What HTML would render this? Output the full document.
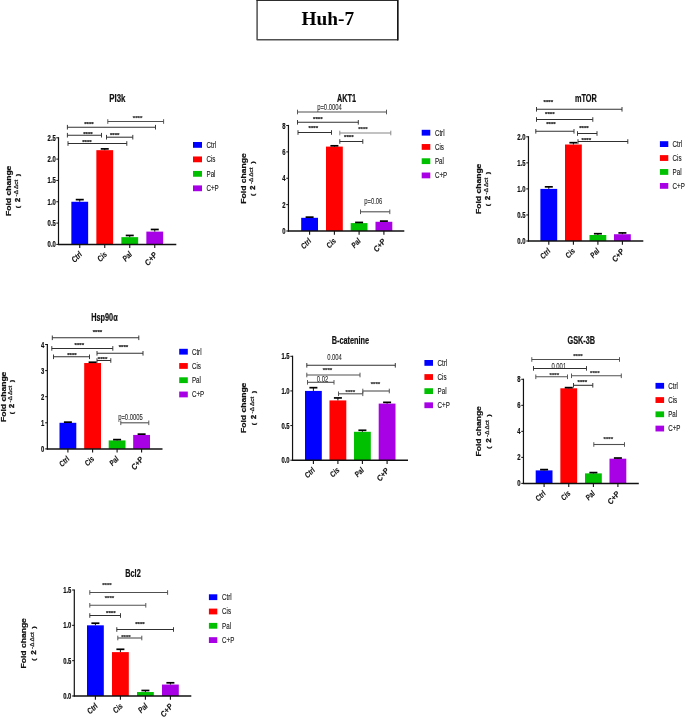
<!DOCTYPE html><html><head><meta charset="utf-8"><title>Huh-7</title>
<style>html,body{margin:0;padding:0;background:#fff;}body{width:685px;height:718px;overflow:hidden;font-family:"Liberation Sans",sans-serif;}body{position:relative;}svg{display:block;position:absolute;top:0;left:0;opacity:0.999;will-change:transform;}text{font-family:"Liberation Sans",sans-serif;}.ser{font-family:"Liberation Serif",serif;}</style></head><body>
<svg width="685" height="718" viewBox="0 0 685 718">
<rect x="0" y="0" width="685" height="718" fill="#fff"/>
<rect x="257.1" y="0" width="140.65" height="39.85" fill="#fff" stroke="#505050" stroke-width="1.5" stroke-linejoin="round"/>
<path d="M256.4 0.1 H397.75 V40.4" fill="none" stroke="#151515" stroke-width="1.4"/>
<text class="ser" x="327.8" y="25" font-size="19.3" font-weight="bold" text-anchor="middle" fill="#000">Huh-7</text>
<rect x="71.35" y="201.76" width="16.80" height="42.64" fill="#0000ff"/>
<line x1="79.75" y1="201.76" x2="79.75" y2="199.63" stroke="#111" stroke-width="1.0"/>
<line x1="75.75" y1="199.63" x2="83.75" y2="199.63" stroke="#000" stroke-width="1.7"/>
<line x1="79.75" y1="244.40" x2="79.75" y2="248.10" stroke="#111" stroke-width="1.1"/>
<text transform="translate(82.65,255.00) rotate(-45) scale(0.8,1)" font-size="8.2" text-anchor="end" font-weight="bold" font-style="italic" fill="#111" stroke="#111" stroke-width="0.1">Ctrl</text>
<rect x="96.35" y="150.17" width="16.80" height="94.23" fill="#ff0000"/>
<line x1="104.75" y1="150.17" x2="104.75" y2="148.89" stroke="#111" stroke-width="1.0"/>
<line x1="100.75" y1="148.89" x2="108.75" y2="148.89" stroke="#000" stroke-width="1.7"/>
<line x1="104.75" y1="244.40" x2="104.75" y2="248.10" stroke="#111" stroke-width="1.1"/>
<text transform="translate(107.65,255.00) rotate(-45) scale(0.8,1)" font-size="8.2" text-anchor="end" font-weight="bold" font-style="italic" fill="#111" stroke="#111" stroke-width="0.1">Cis</text>
<rect x="121.35" y="237.15" width="16.80" height="7.25" fill="#00c000"/>
<line x1="129.75" y1="237.15" x2="129.75" y2="235.45" stroke="#111" stroke-width="1.0"/>
<line x1="125.75" y1="235.45" x2="133.75" y2="235.45" stroke="#000" stroke-width="1.7"/>
<line x1="129.75" y1="244.40" x2="129.75" y2="248.10" stroke="#111" stroke-width="1.1"/>
<text transform="translate(132.65,255.00) rotate(-45) scale(0.8,1)" font-size="8.2" text-anchor="end" font-weight="bold" font-style="italic" fill="#111" stroke="#111" stroke-width="0.1">Pal</text>
<rect x="146.35" y="231.61" width="16.80" height="12.79" fill="#a800e6"/>
<line x1="154.75" y1="231.61" x2="154.75" y2="229.48" stroke="#111" stroke-width="1.0"/>
<line x1="150.75" y1="229.48" x2="158.75" y2="229.48" stroke="#000" stroke-width="1.7"/>
<line x1="154.75" y1="244.40" x2="154.75" y2="248.10" stroke="#111" stroke-width="1.1"/>
<text transform="translate(157.65,255.00) rotate(-50) scale(0.9,1)" font-size="8.2" text-anchor="end" font-weight="bold" font-style="italic" fill="#111" stroke="#111" stroke-width="0.1">C+P</text>
<line x1="58.50" y1="137.20" x2="58.50" y2="245.00" stroke="#111" stroke-width="1.2"/>
<line x1="57.90" y1="244.40" x2="176.30" y2="244.40" stroke="#111" stroke-width="1.55"/>
<line x1="56.30" y1="244.40" x2="58.50" y2="244.40" stroke="#111" stroke-width="1.0"/>
<text transform="translate(55.80,247.45) scale(0.7,1)" font-size="8.4" text-anchor="end" font-weight="bold" font-style="normal" fill="#111" stroke="#111" stroke-width="0.22">0.0</text>
<line x1="56.30" y1="223.08" x2="58.50" y2="223.08" stroke="#111" stroke-width="1.0"/>
<text transform="translate(55.80,226.13) scale(0.7,1)" font-size="8.4" text-anchor="end" font-weight="bold" font-style="normal" fill="#111" stroke="#111" stroke-width="0.22">0.5</text>
<line x1="56.30" y1="201.76" x2="58.50" y2="201.76" stroke="#111" stroke-width="1.0"/>
<text transform="translate(55.80,204.81) scale(0.7,1)" font-size="8.4" text-anchor="end" font-weight="bold" font-style="normal" fill="#111" stroke="#111" stroke-width="0.22">1.0</text>
<line x1="56.30" y1="180.44" x2="58.50" y2="180.44" stroke="#111" stroke-width="1.0"/>
<text transform="translate(55.80,183.49) scale(0.7,1)" font-size="8.4" text-anchor="end" font-weight="bold" font-style="normal" fill="#111" stroke="#111" stroke-width="0.22">1.5</text>
<line x1="56.30" y1="159.12" x2="58.50" y2="159.12" stroke="#111" stroke-width="1.0"/>
<text transform="translate(55.80,162.17) scale(0.7,1)" font-size="8.4" text-anchor="end" font-weight="bold" font-style="normal" fill="#111" stroke="#111" stroke-width="0.22">2.0</text>
<line x1="56.30" y1="137.80" x2="58.50" y2="137.80" stroke="#111" stroke-width="1.0"/>
<text transform="translate(55.80,140.85) scale(0.7,1)" font-size="8.4" text-anchor="end" font-weight="bold" font-style="normal" fill="#111" stroke="#111" stroke-width="0.22">2.5</text>
<text transform="translate(117.30,101.70) scale(0.735,1)" font-size="10.7" text-anchor="middle" font-weight="bold" font-style="normal" fill="#111" stroke="#111" stroke-width="0.22">PI3k</text>
<line x1="67.40" y1="127.20" x2="155.50" y2="127.20" stroke="#303030" stroke-width="1.05"/>
<line x1="67.40" y1="124.90" x2="67.40" y2="129.50" stroke="#303030" stroke-width="0.95"/>
<line x1="155.50" y1="124.90" x2="155.50" y2="129.50" stroke="#303030" stroke-width="0.95"/>
<text transform="translate(89.00,125.80) scale(1.0,1)" font-size="6.1" text-anchor="middle" font-weight="bold" font-style="normal" fill="#222" stroke="#222" stroke-width="0.22">****</text>
<line x1="107.80" y1="121.50" x2="163.60" y2="121.50" stroke="#505050" stroke-width="1.1"/>
<line x1="107.80" y1="119.20" x2="107.80" y2="123.80" stroke="#505050" stroke-width="0.95"/>
<line x1="163.60" y1="119.20" x2="163.60" y2="123.80" stroke="#505050" stroke-width="0.95"/>
<text transform="translate(137.60,120.00) scale(1.0,1)" font-size="6.1" text-anchor="middle" font-weight="bold" font-style="normal" fill="#333" stroke="#333" stroke-width="0.22">****</text>
<line x1="67.40" y1="135.20" x2="101.50" y2="135.20" stroke="#303030" stroke-width="1.05"/>
<line x1="67.40" y1="132.90" x2="67.40" y2="137.50" stroke="#303030" stroke-width="0.95"/>
<line x1="101.50" y1="132.90" x2="101.50" y2="137.50" stroke="#303030" stroke-width="0.95"/>
<text transform="translate(88.00,136.30) scale(1.0,1)" font-size="6.1" text-anchor="middle" font-weight="bold" font-style="normal" fill="#222" stroke="#222" stroke-width="0.22">****</text>
<line x1="106.50" y1="137.20" x2="132.80" y2="137.20" stroke="#303030" stroke-width="1.05"/>
<line x1="106.50" y1="134.90" x2="106.50" y2="139.50" stroke="#303030" stroke-width="0.95"/>
<line x1="132.80" y1="134.90" x2="132.80" y2="139.50" stroke="#303030" stroke-width="0.95"/>
<text transform="translate(114.70,137.00) scale(1.0,1)" font-size="6.1" text-anchor="middle" font-weight="bold" font-style="normal" fill="#222" stroke="#222" stroke-width="0.22">****</text>
<line x1="68.00" y1="143.50" x2="126.80" y2="143.50" stroke="#303030" stroke-width="1.05"/>
<line x1="68.00" y1="141.20" x2="68.00" y2="145.80" stroke="#303030" stroke-width="0.95"/>
<line x1="126.80" y1="141.20" x2="126.80" y2="145.80" stroke="#303030" stroke-width="0.95"/>
<text transform="translate(87.00,144.10) scale(1.0,1)" font-size="6.1" text-anchor="middle" font-weight="bold" font-style="normal" fill="#222" stroke="#222" stroke-width="0.22">****</text>
<text transform="translate(11.00,190.80) rotate(-90) scale(1.26,1)" font-size="6.8" text-anchor="middle" font-weight="bold" font-style="normal" fill="#111" stroke="#111" stroke-width="0.2">Fold change</text>
<g transform="translate(19.90,190.30) rotate(-90)" fill="#111" stroke="#111" stroke-width="0.25" font-weight="bold" text-anchor="middle"><text font-size="5.9" transform="translate(-16.8,0) scale(1.2,1)">(</text><text font-size="6.4" stroke-width="0.35" transform="translate(-9.7,0) scale(1.15,1)">2</text><text font-size="4.9" font-weight="normal" stroke-width="0.22" transform="translate(2.2,-2.1) scale(1.3,1)">-Δ Δct</text><text font-size="5.9" transform="translate(15.3,0) scale(1.2,1)">)</text></g>
<rect x="193.00" y="142.00" width="9.00" height="5.80" fill="#0000ff"/>
<text transform="translate(206.50,147.80) scale(0.705,1)" font-size="8.8" text-anchor="start" font-weight="normal" font-style="normal" fill="#222" stroke="#222" stroke-width="0.15">Ctrl</text>
<rect x="193.00" y="156.47" width="9.00" height="5.80" fill="#ff0000"/>
<text transform="translate(206.50,162.27) scale(0.705,1)" font-size="8.8" text-anchor="start" font-weight="normal" font-style="normal" fill="#222" stroke="#222" stroke-width="0.15">Cis</text>
<rect x="193.00" y="170.94" width="9.00" height="5.80" fill="#00c000"/>
<text transform="translate(206.50,176.74) scale(0.705,1)" font-size="8.8" text-anchor="start" font-weight="normal" font-style="normal" fill="#222" stroke="#222" stroke-width="0.15">Pal</text>
<rect x="193.00" y="185.41" width="9.00" height="5.80" fill="#a800e6"/>
<text transform="translate(206.50,191.21) scale(0.705,1)" font-size="8.8" text-anchor="start" font-weight="normal" font-style="normal" fill="#222" stroke="#222" stroke-width="0.15">C+P</text>
<rect x="301.20" y="217.81" width="16.80" height="13.19" fill="#0000ff"/>
<line x1="309.60" y1="217.81" x2="309.60" y2="217.15" stroke="#111" stroke-width="1.0"/>
<line x1="305.60" y1="217.15" x2="313.60" y2="217.15" stroke="#000" stroke-width="1.7"/>
<line x1="309.60" y1="231.00" x2="309.60" y2="234.70" stroke="#111" stroke-width="1.1"/>
<text transform="translate(311.80,241.60) rotate(-45) scale(0.8,1)" font-size="8.0" text-anchor="end" font-weight="bold" font-style="italic" fill="#111" stroke="#111" stroke-width="0.1">Ctrl</text>
<rect x="326.00" y="146.60" width="16.80" height="84.40" fill="#ff0000"/>
<line x1="334.40" y1="146.60" x2="334.40" y2="145.81" stroke="#111" stroke-width="1.0"/>
<line x1="330.40" y1="145.81" x2="338.40" y2="145.81" stroke="#000" stroke-width="1.7"/>
<line x1="334.40" y1="231.00" x2="334.40" y2="234.70" stroke="#111" stroke-width="1.1"/>
<text transform="translate(336.60,241.60) rotate(-45) scale(0.8,1)" font-size="8.0" text-anchor="end" font-weight="bold" font-style="italic" fill="#111" stroke="#111" stroke-width="0.1">Cis</text>
<rect x="350.70" y="223.09" width="16.80" height="7.91" fill="#00c000"/>
<line x1="359.10" y1="223.09" x2="359.10" y2="222.43" stroke="#111" stroke-width="1.0"/>
<line x1="355.10" y1="222.43" x2="363.10" y2="222.43" stroke="#000" stroke-width="1.7"/>
<line x1="359.10" y1="231.00" x2="359.10" y2="234.70" stroke="#111" stroke-width="1.1"/>
<text transform="translate(361.30,241.60) rotate(-45) scale(0.8,1)" font-size="8.0" text-anchor="end" font-weight="bold" font-style="italic" fill="#111" stroke="#111" stroke-width="0.1">Pal</text>
<rect x="375.50" y="221.77" width="16.80" height="9.23" fill="#a800e6"/>
<line x1="383.90" y1="221.77" x2="383.90" y2="221.11" stroke="#111" stroke-width="1.0"/>
<line x1="379.90" y1="221.11" x2="387.90" y2="221.11" stroke="#000" stroke-width="1.7"/>
<line x1="383.90" y1="231.00" x2="383.90" y2="234.70" stroke="#111" stroke-width="1.1"/>
<text transform="translate(386.10,241.60) rotate(-50) scale(0.9,1)" font-size="8.0" text-anchor="end" font-weight="bold" font-style="italic" fill="#111" stroke="#111" stroke-width="0.1">C+P</text>
<line x1="288.45" y1="124.90" x2="288.45" y2="231.60" stroke="#111" stroke-width="1.2"/>
<line x1="287.85" y1="231.00" x2="404.30" y2="231.00" stroke="#111" stroke-width="1.55"/>
<line x1="286.25" y1="231.00" x2="288.45" y2="231.00" stroke="#111" stroke-width="1.0"/>
<text transform="translate(285.50,234.05) scale(0.7,1)" font-size="8.4" text-anchor="end" font-weight="bold" font-style="normal" fill="#111" stroke="#111" stroke-width="0.22">0</text>
<line x1="286.25" y1="204.62" x2="288.45" y2="204.62" stroke="#111" stroke-width="1.0"/>
<text transform="translate(285.50,207.68) scale(0.7,1)" font-size="8.4" text-anchor="end" font-weight="bold" font-style="normal" fill="#111" stroke="#111" stroke-width="0.22">2</text>
<line x1="286.25" y1="178.25" x2="288.45" y2="178.25" stroke="#111" stroke-width="1.0"/>
<text transform="translate(285.50,181.30) scale(0.7,1)" font-size="8.4" text-anchor="end" font-weight="bold" font-style="normal" fill="#111" stroke="#111" stroke-width="0.22">4</text>
<line x1="286.25" y1="151.88" x2="288.45" y2="151.88" stroke="#111" stroke-width="1.0"/>
<text transform="translate(285.50,154.93) scale(0.7,1)" font-size="8.4" text-anchor="end" font-weight="bold" font-style="normal" fill="#111" stroke="#111" stroke-width="0.22">6</text>
<line x1="286.25" y1="125.50" x2="288.45" y2="125.50" stroke="#111" stroke-width="1.0"/>
<text transform="translate(285.50,128.55) scale(0.7,1)" font-size="8.4" text-anchor="end" font-weight="bold" font-style="normal" fill="#111" stroke="#111" stroke-width="0.22">8</text>
<text transform="translate(346.60,101.70) scale(0.685,1)" font-size="10.7" text-anchor="middle" font-weight="bold" font-style="normal" fill="#111" stroke="#111" stroke-width="0.22">AKT1</text>
<line x1="297.50" y1="112.00" x2="386.50" y2="112.00" stroke="#505050" stroke-width="1.1"/>
<line x1="297.50" y1="109.70" x2="297.50" y2="114.30" stroke="#505050" stroke-width="0.95"/>
<line x1="386.50" y1="109.70" x2="386.50" y2="114.30" stroke="#505050" stroke-width="0.95"/>
<text transform="translate(329.50,110.00) scale(0.7,1)" font-size="8.4" text-anchor="middle" font-weight="normal" font-style="normal" fill="#2e2e2e" stroke="#2e2e2e" stroke-width="0.1">p=0.0004</text>
<line x1="297.50" y1="122.30" x2="358.30" y2="122.30" stroke="#303030" stroke-width="1.05"/>
<line x1="297.50" y1="120.00" x2="297.50" y2="124.60" stroke="#303030" stroke-width="0.95"/>
<line x1="358.30" y1="120.00" x2="358.30" y2="124.60" stroke="#303030" stroke-width="0.95"/>
<text transform="translate(317.80,121.40) scale(1.0,1)" font-size="6.1" text-anchor="middle" font-weight="bold" font-style="normal" fill="#222" stroke="#222" stroke-width="0.22">****</text>
<line x1="298.00" y1="132.50" x2="331.50" y2="132.50" stroke="#303030" stroke-width="1.05"/>
<line x1="298.00" y1="130.20" x2="298.00" y2="134.80" stroke="#303030" stroke-width="0.95"/>
<line x1="331.50" y1="130.20" x2="331.50" y2="134.80" stroke="#303030" stroke-width="0.95"/>
<text transform="translate(313.30,130.20) scale(1.0,1)" font-size="6.1" text-anchor="middle" font-weight="bold" font-style="normal" fill="#222" stroke="#222" stroke-width="0.22">****</text>
<line x1="339.80" y1="133.00" x2="390.80" y2="133.00" stroke="#858585" stroke-width="1.1"/>
<line x1="339.80" y1="130.70" x2="339.80" y2="135.30" stroke="#858585" stroke-width="0.95"/>
<line x1="390.80" y1="130.70" x2="390.80" y2="135.30" stroke="#858585" stroke-width="0.95"/>
<text transform="translate(363.00,130.60) scale(1.0,1)" font-size="6.1" text-anchor="middle" font-weight="bold" font-style="normal" fill="#333" stroke="#333" stroke-width="0.22">****</text>
<line x1="339.80" y1="141.50" x2="362.80" y2="141.50" stroke="#303030" stroke-width="1.05"/>
<line x1="339.80" y1="139.20" x2="339.80" y2="143.80" stroke="#303030" stroke-width="0.95"/>
<line x1="362.80" y1="139.20" x2="362.80" y2="143.80" stroke="#303030" stroke-width="0.95"/>
<text transform="translate(348.80,139.20) scale(1.0,1)" font-size="6.1" text-anchor="middle" font-weight="bold" font-style="normal" fill="#222" stroke="#222" stroke-width="0.22">****</text>
<line x1="360.50" y1="211.80" x2="389.80" y2="211.80" stroke="#505050" stroke-width="1.1"/>
<line x1="360.50" y1="209.50" x2="360.50" y2="214.10" stroke="#505050" stroke-width="0.95"/>
<line x1="389.80" y1="209.50" x2="389.80" y2="214.10" stroke="#505050" stroke-width="0.95"/>
<text transform="translate(373.30,203.60) scale(0.7,1)" font-size="8.4" text-anchor="middle" font-weight="normal" font-style="normal" fill="#2e2e2e" stroke="#2e2e2e" stroke-width="0.1">p=0.06</text>
<text transform="translate(246.20,178.50) rotate(-90) scale(1.26,1)" font-size="6.8" text-anchor="middle" font-weight="bold" font-style="normal" fill="#111" stroke="#111" stroke-width="0.2">Fold change</text>
<g transform="translate(255.10,178.00) rotate(-90)" fill="#111" stroke="#111" stroke-width="0.25" font-weight="bold" text-anchor="middle"><text font-size="5.9" transform="translate(-16.8,0) scale(1.2,1)">(</text><text font-size="6.4" stroke-width="0.35" transform="translate(-9.7,0) scale(1.15,1)">2</text><text font-size="4.9" font-weight="normal" stroke-width="0.22" transform="translate(2.2,-2.1) scale(1.3,1)">-Δ Δct</text><text font-size="5.9" transform="translate(15.3,0) scale(1.2,1)">)</text></g>
<rect x="421.70" y="129.80" width="8.60" height="5.80" fill="#0000ff"/>
<text transform="translate(434.90,135.60) scale(0.705,1)" font-size="8.8" text-anchor="start" font-weight="normal" font-style="normal" fill="#222" stroke="#222" stroke-width="0.15">Ctrl</text>
<rect x="421.70" y="144.04" width="8.60" height="5.80" fill="#ff0000"/>
<text transform="translate(434.90,149.84) scale(0.705,1)" font-size="8.8" text-anchor="start" font-weight="normal" font-style="normal" fill="#222" stroke="#222" stroke-width="0.15">Cis</text>
<rect x="421.70" y="158.28" width="8.60" height="5.80" fill="#00c000"/>
<text transform="translate(434.90,164.08) scale(0.705,1)" font-size="8.8" text-anchor="start" font-weight="normal" font-style="normal" fill="#222" stroke="#222" stroke-width="0.15">Pal</text>
<rect x="421.70" y="172.52" width="8.60" height="5.80" fill="#a800e6"/>
<text transform="translate(434.90,178.32) scale(0.705,1)" font-size="8.8" text-anchor="start" font-weight="normal" font-style="normal" fill="#222" stroke="#222" stroke-width="0.15">C+P</text>
<rect x="540.40" y="188.90" width="16.80" height="52.10" fill="#0000ff"/>
<line x1="548.80" y1="188.90" x2="548.80" y2="186.82" stroke="#111" stroke-width="1.0"/>
<line x1="544.80" y1="186.82" x2="552.80" y2="186.82" stroke="#000" stroke-width="1.7"/>
<line x1="548.80" y1="241.00" x2="548.80" y2="244.70" stroke="#111" stroke-width="1.1"/>
<text transform="translate(551.00,251.60) rotate(-45) scale(0.8,1)" font-size="8.0" text-anchor="end" font-weight="bold" font-style="italic" fill="#111" stroke="#111" stroke-width="0.1">Ctrl</text>
<rect x="565.00" y="144.51" width="16.80" height="96.49" fill="#ff0000"/>
<line x1="573.40" y1="144.51" x2="573.40" y2="142.69" stroke="#111" stroke-width="1.0"/>
<line x1="569.40" y1="142.69" x2="577.40" y2="142.69" stroke="#000" stroke-width="1.7"/>
<line x1="573.40" y1="241.00" x2="573.40" y2="244.70" stroke="#111" stroke-width="1.1"/>
<text transform="translate(575.60,251.60) rotate(-45) scale(0.8,1)" font-size="8.0" text-anchor="end" font-weight="bold" font-style="italic" fill="#111" stroke="#111" stroke-width="0.1">Cis</text>
<rect x="589.50" y="235.01" width="16.80" height="5.99" fill="#00c000"/>
<line x1="597.90" y1="235.01" x2="597.90" y2="233.71" stroke="#111" stroke-width="1.0"/>
<line x1="593.90" y1="233.71" x2="601.90" y2="233.71" stroke="#000" stroke-width="1.7"/>
<line x1="597.90" y1="241.00" x2="597.90" y2="244.70" stroke="#111" stroke-width="1.1"/>
<text transform="translate(600.10,251.60) rotate(-45) scale(0.8,1)" font-size="8.0" text-anchor="end" font-weight="bold" font-style="italic" fill="#111" stroke="#111" stroke-width="0.1">Pal</text>
<rect x="614.00" y="234.23" width="16.80" height="6.77" fill="#a800e6"/>
<line x1="622.40" y1="234.23" x2="622.40" y2="232.92" stroke="#111" stroke-width="1.0"/>
<line x1="618.40" y1="232.92" x2="626.40" y2="232.92" stroke="#000" stroke-width="1.7"/>
<line x1="622.40" y1="241.00" x2="622.40" y2="244.70" stroke="#111" stroke-width="1.1"/>
<text transform="translate(624.60,251.60) rotate(-50) scale(0.9,1)" font-size="8.0" text-anchor="end" font-weight="bold" font-style="italic" fill="#111" stroke="#111" stroke-width="0.1">C+P</text>
<line x1="528.45" y1="136.20" x2="528.45" y2="241.60" stroke="#111" stroke-width="1.2"/>
<line x1="527.85" y1="241.00" x2="643.30" y2="241.00" stroke="#111" stroke-width="1.55"/>
<line x1="526.25" y1="241.00" x2="528.45" y2="241.00" stroke="#111" stroke-width="1.0"/>
<text transform="translate(525.50,244.05) scale(0.7,1)" font-size="8.4" text-anchor="end" font-weight="bold" font-style="normal" fill="#111" stroke="#111" stroke-width="0.22">0.0</text>
<line x1="526.25" y1="214.95" x2="528.45" y2="214.95" stroke="#111" stroke-width="1.0"/>
<text transform="translate(525.50,218.00) scale(0.7,1)" font-size="8.4" text-anchor="end" font-weight="bold" font-style="normal" fill="#111" stroke="#111" stroke-width="0.22">0.5</text>
<line x1="526.25" y1="188.90" x2="528.45" y2="188.90" stroke="#111" stroke-width="1.0"/>
<text transform="translate(525.50,191.95) scale(0.7,1)" font-size="8.4" text-anchor="end" font-weight="bold" font-style="normal" fill="#111" stroke="#111" stroke-width="0.22">1.0</text>
<line x1="526.25" y1="162.85" x2="528.45" y2="162.85" stroke="#111" stroke-width="1.0"/>
<text transform="translate(525.50,165.90) scale(0.7,1)" font-size="8.4" text-anchor="end" font-weight="bold" font-style="normal" fill="#111" stroke="#111" stroke-width="0.22">1.5</text>
<line x1="526.25" y1="136.80" x2="528.45" y2="136.80" stroke="#111" stroke-width="1.0"/>
<text transform="translate(525.50,139.85) scale(0.7,1)" font-size="8.4" text-anchor="end" font-weight="bold" font-style="normal" fill="#111" stroke="#111" stroke-width="0.22">2.0</text>
<text transform="translate(585.80,101.70) scale(0.685,1)" font-size="10.7" text-anchor="middle" font-weight="bold" font-style="normal" fill="#111" stroke="#111" stroke-width="0.22">mTOR</text>
<line x1="536.50" y1="109.30" x2="622.00" y2="109.30" stroke="#303030" stroke-width="1.05"/>
<line x1="536.50" y1="107.00" x2="536.50" y2="111.60" stroke="#303030" stroke-width="0.95"/>
<line x1="622.00" y1="107.00" x2="622.00" y2="111.60" stroke="#303030" stroke-width="0.95"/>
<text transform="translate(548.30,103.60) scale(1.0,1)" font-size="6.1" text-anchor="middle" font-weight="bold" font-style="normal" fill="#222" stroke="#222" stroke-width="0.22">****</text>
<line x1="536.50" y1="119.50" x2="592.80" y2="119.50" stroke="#303030" stroke-width="1.05"/>
<line x1="536.50" y1="117.20" x2="536.50" y2="121.80" stroke="#303030" stroke-width="0.95"/>
<line x1="592.80" y1="117.20" x2="592.80" y2="121.80" stroke="#303030" stroke-width="0.95"/>
<text transform="translate(549.80,115.60) scale(1.0,1)" font-size="6.1" text-anchor="middle" font-weight="bold" font-style="normal" fill="#222" stroke="#222" stroke-width="0.22">****</text>
<line x1="535.80" y1="131.30" x2="574.00" y2="131.30" stroke="#303030" stroke-width="1.05"/>
<line x1="535.80" y1="129.00" x2="535.80" y2="133.60" stroke="#303030" stroke-width="0.95"/>
<line x1="574.00" y1="129.00" x2="574.00" y2="133.60" stroke="#303030" stroke-width="0.95"/>
<text transform="translate(551.00,125.60) scale(1.0,1)" font-size="6.1" text-anchor="middle" font-weight="bold" font-style="normal" fill="#222" stroke="#222" stroke-width="0.22">****</text>
<line x1="577.50" y1="133.50" x2="597.00" y2="133.50" stroke="#303030" stroke-width="1.05"/>
<line x1="577.50" y1="131.20" x2="577.50" y2="135.80" stroke="#303030" stroke-width="0.95"/>
<line x1="597.00" y1="131.20" x2="597.00" y2="135.80" stroke="#303030" stroke-width="0.95"/>
<text transform="translate(584.00,130.30) scale(1.0,1)" font-size="6.1" text-anchor="middle" font-weight="bold" font-style="normal" fill="#222" stroke="#222" stroke-width="0.22">****</text>
<line x1="578.00" y1="141.50" x2="627.80" y2="141.50" stroke="#303030" stroke-width="1.05"/>
<line x1="578.00" y1="139.20" x2="578.00" y2="143.80" stroke="#303030" stroke-width="0.95"/>
<line x1="627.80" y1="139.20" x2="627.80" y2="143.80" stroke="#303030" stroke-width="0.95"/>
<text transform="translate(586.30,141.60) scale(1.0,1)" font-size="6.1" text-anchor="middle" font-weight="bold" font-style="normal" fill="#222" stroke="#222" stroke-width="0.22">****</text>
<text transform="translate(481.20,188.80) rotate(-90) scale(1.26,1)" font-size="6.8" text-anchor="middle" font-weight="bold" font-style="normal" fill="#111" stroke="#111" stroke-width="0.2">Fold change</text>
<g transform="translate(490.10,188.30) rotate(-90)" fill="#111" stroke="#111" stroke-width="0.25" font-weight="bold" text-anchor="middle"><text font-size="5.9" transform="translate(-16.8,0) scale(1.2,1)">(</text><text font-size="6.4" stroke-width="0.35" transform="translate(-9.7,0) scale(1.15,1)">2</text><text font-size="4.9" font-weight="normal" stroke-width="0.22" transform="translate(2.2,-2.1) scale(1.3,1)">-Δ Δct</text><text font-size="5.9" transform="translate(15.3,0) scale(1.2,1)">)</text></g>
<rect x="659.90" y="141.20" width="8.40" height="5.80" fill="#0000ff"/>
<text transform="translate(672.60,147.00) scale(0.705,1)" font-size="8.8" text-anchor="start" font-weight="normal" font-style="normal" fill="#222" stroke="#222" stroke-width="0.15">Ctrl</text>
<rect x="659.90" y="155.13" width="8.40" height="5.80" fill="#ff0000"/>
<text transform="translate(672.60,160.93) scale(0.705,1)" font-size="8.8" text-anchor="start" font-weight="normal" font-style="normal" fill="#222" stroke="#222" stroke-width="0.15">Cis</text>
<rect x="659.90" y="169.06" width="8.40" height="5.80" fill="#00c000"/>
<text transform="translate(672.60,174.86) scale(0.705,1)" font-size="8.8" text-anchor="start" font-weight="normal" font-style="normal" fill="#222" stroke="#222" stroke-width="0.15">Pal</text>
<rect x="659.90" y="182.99" width="8.40" height="5.80" fill="#a800e6"/>
<text transform="translate(672.60,188.79) scale(0.705,1)" font-size="8.8" text-anchor="start" font-weight="normal" font-style="normal" fill="#222" stroke="#222" stroke-width="0.15">C+P</text>
<rect x="59.50" y="422.80" width="16.80" height="26.10" fill="#0000ff"/>
<line x1="67.90" y1="422.80" x2="67.90" y2="422.15" stroke="#111" stroke-width="1.0"/>
<line x1="63.90" y1="422.15" x2="71.90" y2="422.15" stroke="#000" stroke-width="1.7"/>
<line x1="67.90" y1="448.90" x2="67.90" y2="452.60" stroke="#111" stroke-width="1.1"/>
<text transform="translate(70.10,459.50) rotate(-45) scale(0.8,1)" font-size="8.0" text-anchor="end" font-weight="bold" font-style="italic" fill="#111" stroke="#111" stroke-width="0.1">Ctrl</text>
<rect x="84.20" y="363.03" width="16.80" height="85.87" fill="#ff0000"/>
<line x1="92.60" y1="363.03" x2="92.60" y2="362.25" stroke="#111" stroke-width="1.0"/>
<line x1="88.60" y1="362.25" x2="96.60" y2="362.25" stroke="#000" stroke-width="1.7"/>
<line x1="92.60" y1="448.90" x2="92.60" y2="452.60" stroke="#111" stroke-width="1.1"/>
<text transform="translate(94.80,459.50) rotate(-45) scale(0.8,1)" font-size="8.0" text-anchor="end" font-weight="bold" font-style="italic" fill="#111" stroke="#111" stroke-width="0.1">Cis</text>
<rect x="108.70" y="440.42" width="16.80" height="8.48" fill="#00c000"/>
<line x1="117.10" y1="440.42" x2="117.10" y2="439.63" stroke="#111" stroke-width="1.0"/>
<line x1="113.10" y1="439.63" x2="121.10" y2="439.63" stroke="#000" stroke-width="1.7"/>
<line x1="117.10" y1="448.90" x2="117.10" y2="452.60" stroke="#111" stroke-width="1.1"/>
<text transform="translate(119.30,459.50) rotate(-45) scale(0.8,1)" font-size="8.0" text-anchor="end" font-weight="bold" font-style="italic" fill="#111" stroke="#111" stroke-width="0.1">Pal</text>
<rect x="133.20" y="434.94" width="16.80" height="13.96" fill="#a800e6"/>
<line x1="141.60" y1="434.94" x2="141.60" y2="434.15" stroke="#111" stroke-width="1.0"/>
<line x1="137.60" y1="434.15" x2="145.60" y2="434.15" stroke="#000" stroke-width="1.7"/>
<line x1="141.60" y1="448.90" x2="141.60" y2="452.60" stroke="#111" stroke-width="1.1"/>
<text transform="translate(143.80,459.50) rotate(-50) scale(0.9,1)" font-size="8.0" text-anchor="end" font-weight="bold" font-style="italic" fill="#111" stroke="#111" stroke-width="0.1">C+P</text>
<line x1="47.35" y1="343.90" x2="47.35" y2="449.50" stroke="#111" stroke-width="1.2"/>
<line x1="46.75" y1="448.90" x2="162.50" y2="448.90" stroke="#111" stroke-width="1.55"/>
<line x1="45.15" y1="448.90" x2="47.35" y2="448.90" stroke="#111" stroke-width="1.0"/>
<text transform="translate(44.40,451.95) scale(0.7,1)" font-size="8.4" text-anchor="end" font-weight="bold" font-style="normal" fill="#111" stroke="#111" stroke-width="0.22">0</text>
<line x1="45.15" y1="422.80" x2="47.35" y2="422.80" stroke="#111" stroke-width="1.0"/>
<text transform="translate(44.40,425.85) scale(0.7,1)" font-size="8.4" text-anchor="end" font-weight="bold" font-style="normal" fill="#111" stroke="#111" stroke-width="0.22">1</text>
<line x1="45.15" y1="396.70" x2="47.35" y2="396.70" stroke="#111" stroke-width="1.0"/>
<text transform="translate(44.40,399.75) scale(0.7,1)" font-size="8.4" text-anchor="end" font-weight="bold" font-style="normal" fill="#111" stroke="#111" stroke-width="0.22">2</text>
<line x1="45.15" y1="370.60" x2="47.35" y2="370.60" stroke="#111" stroke-width="1.0"/>
<text transform="translate(44.40,373.65) scale(0.7,1)" font-size="8.4" text-anchor="end" font-weight="bold" font-style="normal" fill="#111" stroke="#111" stroke-width="0.22">3</text>
<line x1="45.15" y1="344.50" x2="47.35" y2="344.50" stroke="#111" stroke-width="1.0"/>
<text transform="translate(44.40,347.55) scale(0.7,1)" font-size="8.4" text-anchor="end" font-weight="bold" font-style="normal" fill="#111" stroke="#111" stroke-width="0.22">4</text>
<text transform="translate(104.40,321.00) scale(0.685,1)" font-size="10.7" text-anchor="middle" font-weight="bold" font-style="normal" fill="#111" stroke="#111" stroke-width="0.22">Hsp90α</text>
<line x1="52.30" y1="337.80" x2="138.80" y2="337.80" stroke="#303030" stroke-width="1.05"/>
<line x1="52.30" y1="335.50" x2="52.30" y2="340.10" stroke="#303030" stroke-width="0.95"/>
<line x1="138.80" y1="335.50" x2="138.80" y2="340.10" stroke="#303030" stroke-width="0.95"/>
<text transform="translate(97.50,334.10) scale(1.0,1)" font-size="6.1" text-anchor="middle" font-weight="bold" font-style="normal" fill="#222" stroke="#222" stroke-width="0.22">****</text>
<line x1="51.80" y1="348.40" x2="112.80" y2="348.40" stroke="#303030" stroke-width="1.05"/>
<line x1="51.80" y1="346.10" x2="51.80" y2="350.70" stroke="#303030" stroke-width="0.95"/>
<line x1="112.80" y1="346.10" x2="112.80" y2="350.70" stroke="#303030" stroke-width="0.95"/>
<text transform="translate(79.30,346.50) scale(1.0,1)" font-size="6.1" text-anchor="middle" font-weight="bold" font-style="normal" fill="#222" stroke="#222" stroke-width="0.22">****</text>
<line x1="53.50" y1="356.80" x2="89.50" y2="356.80" stroke="#303030" stroke-width="1.05"/>
<line x1="53.50" y1="354.50" x2="53.50" y2="359.10" stroke="#303030" stroke-width="0.95"/>
<line x1="89.50" y1="354.50" x2="89.50" y2="359.10" stroke="#303030" stroke-width="0.95"/>
<text transform="translate(72.00,356.80) scale(1.0,1)" font-size="6.1" text-anchor="middle" font-weight="bold" font-style="normal" fill="#222" stroke="#222" stroke-width="0.22">****</text>
<line x1="97.00" y1="353.30" x2="143.00" y2="353.30" stroke="#303030" stroke-width="1.05"/>
<line x1="97.00" y1="351.00" x2="97.00" y2="355.60" stroke="#303030" stroke-width="0.95"/>
<line x1="143.00" y1="351.00" x2="143.00" y2="355.60" stroke="#303030" stroke-width="0.95"/>
<text transform="translate(123.50,349.10) scale(1.0,1)" font-size="6.1" text-anchor="middle" font-weight="bold" font-style="normal" fill="#222" stroke="#222" stroke-width="0.22">****</text>
<line x1="97.00" y1="360.50" x2="110.80" y2="360.50" stroke="#303030" stroke-width="1.05"/>
<line x1="97.00" y1="358.20" x2="97.00" y2="362.80" stroke="#303030" stroke-width="0.95"/>
<line x1="110.80" y1="358.20" x2="110.80" y2="362.80" stroke="#303030" stroke-width="0.95"/>
<text transform="translate(102.60,361.20) scale(1.0,1)" font-size="6.1" text-anchor="middle" font-weight="bold" font-style="normal" fill="#222" stroke="#222" stroke-width="0.22">****</text>
<line x1="120.80" y1="422.80" x2="148.80" y2="422.80" stroke="#505050" stroke-width="1.1"/>
<line x1="120.80" y1="420.50" x2="120.80" y2="425.10" stroke="#505050" stroke-width="0.95"/>
<line x1="148.80" y1="420.50" x2="148.80" y2="425.10" stroke="#505050" stroke-width="0.95"/>
<text transform="translate(130.50,420.00) scale(0.7,1)" font-size="8.4" text-anchor="middle" font-weight="normal" font-style="normal" fill="#2e2e2e" stroke="#2e2e2e" stroke-width="0.1">p=0.0005</text>
<text transform="translate(5.50,396.80) rotate(-90) scale(1.26,1)" font-size="6.8" text-anchor="middle" font-weight="bold" font-style="normal" fill="#111" stroke="#111" stroke-width="0.2">Fold change</text>
<g transform="translate(14.40,396.30) rotate(-90)" fill="#111" stroke="#111" stroke-width="0.25" font-weight="bold" text-anchor="middle"><text font-size="5.9" transform="translate(-16.8,0) scale(1.2,1)">(</text><text font-size="6.4" stroke-width="0.35" transform="translate(-9.7,0) scale(1.15,1)">2</text><text font-size="4.9" font-weight="normal" stroke-width="0.22" transform="translate(2.2,-2.1) scale(1.3,1)">-Δ Δct</text><text font-size="5.9" transform="translate(15.3,0) scale(1.2,1)">)</text></g>
<rect x="179.20" y="348.80" width="8.60" height="5.80" fill="#0000ff"/>
<text transform="translate(191.90,354.60) scale(0.705,1)" font-size="8.8" text-anchor="start" font-weight="normal" font-style="normal" fill="#222" stroke="#222" stroke-width="0.15">Ctrl</text>
<rect x="179.20" y="363.05" width="8.60" height="5.80" fill="#ff0000"/>
<text transform="translate(191.90,368.85) scale(0.705,1)" font-size="8.8" text-anchor="start" font-weight="normal" font-style="normal" fill="#222" stroke="#222" stroke-width="0.15">Cis</text>
<rect x="179.20" y="377.30" width="8.60" height="5.80" fill="#00c000"/>
<text transform="translate(191.90,383.10) scale(0.705,1)" font-size="8.8" text-anchor="start" font-weight="normal" font-style="normal" fill="#222" stroke="#222" stroke-width="0.15">Pal</text>
<rect x="179.20" y="391.55" width="8.60" height="5.80" fill="#a800e6"/>
<text transform="translate(191.90,397.35) scale(0.705,1)" font-size="8.8" text-anchor="start" font-weight="normal" font-style="normal" fill="#222" stroke="#222" stroke-width="0.15">C+P</text>
<rect x="305.00" y="390.93" width="16.80" height="69.27" fill="#0000ff"/>
<line x1="313.40" y1="390.93" x2="313.40" y2="387.68" stroke="#111" stroke-width="1.0"/>
<line x1="309.40" y1="387.68" x2="317.40" y2="387.68" stroke="#000" stroke-width="1.7"/>
<line x1="313.40" y1="460.20" x2="313.40" y2="463.90" stroke="#111" stroke-width="1.1"/>
<text transform="translate(315.60,470.80) rotate(-45) scale(0.8,1)" font-size="8.0" text-anchor="end" font-weight="bold" font-style="italic" fill="#111" stroke="#111" stroke-width="0.1">Ctrl</text>
<rect x="329.50" y="400.42" width="16.80" height="59.78" fill="#ff0000"/>
<line x1="337.90" y1="400.42" x2="337.90" y2="397.93" stroke="#111" stroke-width="1.0"/>
<line x1="333.90" y1="397.93" x2="341.90" y2="397.93" stroke="#000" stroke-width="1.7"/>
<line x1="337.90" y1="460.20" x2="337.90" y2="463.90" stroke="#111" stroke-width="1.1"/>
<text transform="translate(340.10,470.80) rotate(-45) scale(0.8,1)" font-size="8.0" text-anchor="end" font-weight="bold" font-style="italic" fill="#111" stroke="#111" stroke-width="0.1">Cis</text>
<rect x="354.00" y="431.80" width="16.80" height="28.40" fill="#00c000"/>
<line x1="362.40" y1="431.80" x2="362.40" y2="430.28" stroke="#111" stroke-width="1.0"/>
<line x1="358.40" y1="430.28" x2="366.40" y2="430.28" stroke="#000" stroke-width="1.7"/>
<line x1="362.40" y1="460.20" x2="362.40" y2="463.90" stroke="#111" stroke-width="1.1"/>
<text transform="translate(364.60,470.80) rotate(-45) scale(0.8,1)" font-size="8.0" text-anchor="end" font-weight="bold" font-style="italic" fill="#111" stroke="#111" stroke-width="0.1">Pal</text>
<rect x="378.70" y="403.61" width="16.80" height="56.59" fill="#a800e6"/>
<line x1="387.10" y1="403.61" x2="387.10" y2="402.36" stroke="#111" stroke-width="1.0"/>
<line x1="383.10" y1="402.36" x2="391.10" y2="402.36" stroke="#000" stroke-width="1.7"/>
<line x1="387.10" y1="460.20" x2="387.10" y2="463.90" stroke="#111" stroke-width="1.1"/>
<text transform="translate(389.30,470.80) rotate(-50) scale(0.9,1)" font-size="8.0" text-anchor="end" font-weight="bold" font-style="italic" fill="#111" stroke="#111" stroke-width="0.1">C+P</text>
<line x1="292.55" y1="355.70" x2="292.55" y2="460.80" stroke="#111" stroke-width="1.2"/>
<line x1="291.95" y1="460.20" x2="408.00" y2="460.20" stroke="#111" stroke-width="1.55"/>
<line x1="290.35" y1="460.20" x2="292.55" y2="460.20" stroke="#111" stroke-width="1.0"/>
<text transform="translate(289.60,463.25) scale(0.7,1)" font-size="8.4" text-anchor="end" font-weight="bold" font-style="normal" fill="#111" stroke="#111" stroke-width="0.22">0.0</text>
<line x1="290.35" y1="425.57" x2="292.55" y2="425.57" stroke="#111" stroke-width="1.0"/>
<text transform="translate(289.60,428.62) scale(0.7,1)" font-size="8.4" text-anchor="end" font-weight="bold" font-style="normal" fill="#111" stroke="#111" stroke-width="0.22">0.5</text>
<line x1="290.35" y1="390.93" x2="292.55" y2="390.93" stroke="#111" stroke-width="1.0"/>
<text transform="translate(289.60,393.98) scale(0.7,1)" font-size="8.4" text-anchor="end" font-weight="bold" font-style="normal" fill="#111" stroke="#111" stroke-width="0.22">1.0</text>
<line x1="290.35" y1="356.30" x2="292.55" y2="356.30" stroke="#111" stroke-width="1.0"/>
<text transform="translate(289.60,359.35) scale(0.7,1)" font-size="8.4" text-anchor="end" font-weight="bold" font-style="normal" fill="#111" stroke="#111" stroke-width="0.22">1.5</text>
<text transform="translate(350.40,343.60) scale(0.685,1)" font-size="10.7" text-anchor="middle" font-weight="bold" font-style="normal" fill="#111" stroke="#111" stroke-width="0.22">B-catenine</text>
<line x1="306.80" y1="365.30" x2="395.30" y2="365.30" stroke="#303030" stroke-width="1.05"/>
<line x1="306.80" y1="363.00" x2="306.80" y2="367.60" stroke="#303030" stroke-width="0.95"/>
<line x1="395.30" y1="363.00" x2="395.30" y2="367.60" stroke="#303030" stroke-width="0.95"/>
<text transform="translate(334.50,360.20) scale(0.7,1)" font-size="8.4" text-anchor="middle" font-weight="normal" font-style="normal" fill="#2e2e2e" stroke="#2e2e2e" stroke-width="0.1">0.004</text>
<line x1="306.80" y1="375.00" x2="360.00" y2="375.00" stroke="#505050" stroke-width="1.1"/>
<line x1="306.80" y1="372.70" x2="306.80" y2="377.30" stroke="#505050" stroke-width="0.95"/>
<line x1="360.00" y1="372.70" x2="360.00" y2="377.30" stroke="#505050" stroke-width="0.95"/>
<text transform="translate(327.50,372.10) scale(1.0,1)" font-size="6.1" text-anchor="middle" font-weight="bold" font-style="normal" fill="#333" stroke="#333" stroke-width="0.22">****</text>
<line x1="307.50" y1="382.30" x2="334.00" y2="382.30" stroke="#505050" stroke-width="1.1"/>
<line x1="307.50" y1="380.00" x2="307.50" y2="384.60" stroke="#505050" stroke-width="0.95"/>
<line x1="334.00" y1="380.00" x2="334.00" y2="384.60" stroke="#505050" stroke-width="0.95"/>
<text transform="translate(322.50,381.60) scale(0.7,1)" font-size="8.4" text-anchor="middle" font-weight="normal" font-style="normal" fill="#2e2e2e" stroke="#2e2e2e" stroke-width="0.1">0.02</text>
<line x1="338.50" y1="393.80" x2="362.80" y2="393.80" stroke="#505050" stroke-width="1.1"/>
<line x1="338.50" y1="391.50" x2="338.50" y2="396.10" stroke="#505050" stroke-width="0.95"/>
<line x1="362.80" y1="391.50" x2="362.80" y2="396.10" stroke="#505050" stroke-width="0.95"/>
<text transform="translate(350.30,394.10) scale(1.0,1)" font-size="6.1" text-anchor="middle" font-weight="bold" font-style="normal" fill="#333" stroke="#333" stroke-width="0.22">****</text>
<line x1="362.80" y1="391.00" x2="389.30" y2="391.00" stroke="#505050" stroke-width="1.1"/>
<line x1="362.80" y1="388.70" x2="362.80" y2="393.30" stroke="#505050" stroke-width="0.95"/>
<line x1="389.30" y1="388.70" x2="389.30" y2="393.30" stroke="#505050" stroke-width="0.95"/>
<text transform="translate(375.50,386.20) scale(1.0,1)" font-size="6.1" text-anchor="middle" font-weight="bold" font-style="normal" fill="#333" stroke="#333" stroke-width="0.22">****</text>
<text transform="translate(246.20,407.80) rotate(-90) scale(1.26,1)" font-size="6.8" text-anchor="middle" font-weight="bold" font-style="normal" fill="#111" stroke="#111" stroke-width="0.2">Fold change</text>
<g transform="translate(255.60,407.30) rotate(-90)" fill="#111" stroke="#111" stroke-width="0.25" font-weight="bold" text-anchor="middle"><text font-size="5.9" transform="translate(-16.8,0) scale(1.2,1)">(</text><text font-size="6.4" stroke-width="0.35" transform="translate(-9.7,0) scale(1.15,1)">2</text><text font-size="4.9" font-weight="normal" stroke-width="0.22" transform="translate(2.2,-2.1) scale(1.3,1)">-Δ Δct</text><text font-size="5.9" transform="translate(15.3,0) scale(1.2,1)">)</text></g>
<rect x="424.40" y="360.00" width="8.60" height="5.80" fill="#0000ff"/>
<text transform="translate(437.60,365.80) scale(0.705,1)" font-size="8.8" text-anchor="start" font-weight="normal" font-style="normal" fill="#222" stroke="#222" stroke-width="0.15">Ctrl</text>
<rect x="424.40" y="374.12" width="8.60" height="5.80" fill="#ff0000"/>
<text transform="translate(437.60,379.92) scale(0.705,1)" font-size="8.8" text-anchor="start" font-weight="normal" font-style="normal" fill="#222" stroke="#222" stroke-width="0.15">Cis</text>
<rect x="424.40" y="388.24" width="8.60" height="5.80" fill="#00c000"/>
<text transform="translate(437.60,394.04) scale(0.705,1)" font-size="8.8" text-anchor="start" font-weight="normal" font-style="normal" fill="#222" stroke="#222" stroke-width="0.15">Pal</text>
<rect x="424.40" y="402.36" width="8.60" height="5.80" fill="#a800e6"/>
<text transform="translate(437.60,408.16) scale(0.705,1)" font-size="8.8" text-anchor="start" font-weight="normal" font-style="normal" fill="#222" stroke="#222" stroke-width="0.15">C+P</text>
<rect x="535.70" y="470.39" width="16.80" height="13.01" fill="#0000ff"/>
<line x1="544.10" y1="470.39" x2="544.10" y2="469.61" stroke="#111" stroke-width="1.0"/>
<line x1="540.10" y1="469.61" x2="548.10" y2="469.61" stroke="#000" stroke-width="1.7"/>
<line x1="544.10" y1="483.40" x2="544.10" y2="487.10" stroke="#111" stroke-width="1.1"/>
<text transform="translate(546.30,494.00) rotate(-45) scale(0.8,1)" font-size="8.0" text-anchor="end" font-weight="bold" font-style="italic" fill="#111" stroke="#111" stroke-width="0.1">Ctrl</text>
<rect x="560.35" y="388.28" width="16.80" height="95.12" fill="#ff0000"/>
<line x1="568.75" y1="388.28" x2="568.75" y2="387.63" stroke="#111" stroke-width="1.0"/>
<line x1="564.75" y1="387.63" x2="572.75" y2="387.63" stroke="#000" stroke-width="1.7"/>
<line x1="568.75" y1="483.40" x2="568.75" y2="487.10" stroke="#111" stroke-width="1.1"/>
<text transform="translate(570.95,494.00) rotate(-45) scale(0.8,1)" font-size="8.0" text-anchor="end" font-weight="bold" font-style="italic" fill="#111" stroke="#111" stroke-width="0.1">Cis</text>
<rect x="585.00" y="473.38" width="16.80" height="10.02" fill="#00c000"/>
<line x1="593.40" y1="473.38" x2="593.40" y2="472.60" stroke="#111" stroke-width="1.0"/>
<line x1="589.40" y1="472.60" x2="597.40" y2="472.60" stroke="#000" stroke-width="1.7"/>
<line x1="593.40" y1="483.40" x2="593.40" y2="487.10" stroke="#111" stroke-width="1.1"/>
<text transform="translate(595.60,494.00) rotate(-45) scale(0.8,1)" font-size="8.0" text-anchor="end" font-weight="bold" font-style="italic" fill="#111" stroke="#111" stroke-width="0.1">Pal</text>
<rect x="609.50" y="458.68" width="16.80" height="24.72" fill="#a800e6"/>
<line x1="617.90" y1="458.68" x2="617.90" y2="458.03" stroke="#111" stroke-width="1.0"/>
<line x1="613.90" y1="458.03" x2="621.90" y2="458.03" stroke="#000" stroke-width="1.7"/>
<line x1="617.90" y1="483.40" x2="617.90" y2="487.10" stroke="#111" stroke-width="1.1"/>
<text transform="translate(620.10,494.00) rotate(-50) scale(0.9,1)" font-size="8.0" text-anchor="end" font-weight="bold" font-style="italic" fill="#111" stroke="#111" stroke-width="0.1">C+P</text>
<line x1="523.45" y1="378.70" x2="523.45" y2="484.00" stroke="#111" stroke-width="1.2"/>
<line x1="522.85" y1="483.40" x2="638.80" y2="483.40" stroke="#111" stroke-width="1.55"/>
<line x1="521.25" y1="483.40" x2="523.45" y2="483.40" stroke="#111" stroke-width="1.0"/>
<text transform="translate(520.50,486.45) scale(0.7,1)" font-size="8.4" text-anchor="end" font-weight="bold" font-style="normal" fill="#111" stroke="#111" stroke-width="0.22">0</text>
<line x1="521.25" y1="457.38" x2="523.45" y2="457.38" stroke="#111" stroke-width="1.0"/>
<text transform="translate(520.50,460.43) scale(0.7,1)" font-size="8.4" text-anchor="end" font-weight="bold" font-style="normal" fill="#111" stroke="#111" stroke-width="0.22">2</text>
<line x1="521.25" y1="431.35" x2="523.45" y2="431.35" stroke="#111" stroke-width="1.0"/>
<text transform="translate(520.50,434.40) scale(0.7,1)" font-size="8.4" text-anchor="end" font-weight="bold" font-style="normal" fill="#111" stroke="#111" stroke-width="0.22">4</text>
<line x1="521.25" y1="405.32" x2="523.45" y2="405.32" stroke="#111" stroke-width="1.0"/>
<text transform="translate(520.50,408.38) scale(0.7,1)" font-size="8.4" text-anchor="end" font-weight="bold" font-style="normal" fill="#111" stroke="#111" stroke-width="0.22">6</text>
<line x1="521.25" y1="379.30" x2="523.45" y2="379.30" stroke="#111" stroke-width="1.0"/>
<text transform="translate(520.50,382.35) scale(0.7,1)" font-size="8.4" text-anchor="end" font-weight="bold" font-style="normal" fill="#111" stroke="#111" stroke-width="0.22">8</text>
<text transform="translate(581.30,343.60) scale(0.685,1)" font-size="10.7" text-anchor="middle" font-weight="bold" font-style="normal" fill="#111" stroke="#111" stroke-width="0.22">GSK-3B</text>
<line x1="531.80" y1="359.50" x2="619.50" y2="359.50" stroke="#505050" stroke-width="1.1"/>
<line x1="531.80" y1="357.20" x2="531.80" y2="361.80" stroke="#505050" stroke-width="0.95"/>
<line x1="619.50" y1="357.20" x2="619.50" y2="361.80" stroke="#505050" stroke-width="0.95"/>
<text transform="translate(578.00,357.80) scale(1.0,1)" font-size="6.1" text-anchor="middle" font-weight="bold" font-style="normal" fill="#333" stroke="#333" stroke-width="0.22">****</text>
<line x1="533.50" y1="368.40" x2="586.50" y2="368.40" stroke="#303030" stroke-width="1.05"/>
<line x1="533.50" y1="366.10" x2="533.50" y2="370.70" stroke="#303030" stroke-width="0.95"/>
<line x1="586.50" y1="366.10" x2="586.50" y2="370.70" stroke="#303030" stroke-width="0.95"/>
<text transform="translate(558.80,368.90) scale(0.7,1)" font-size="8.4" text-anchor="middle" font-weight="normal" font-style="normal" fill="#2e2e2e" stroke="#2e2e2e" stroke-width="0.1">0.001</text>
<line x1="535.80" y1="376.80" x2="567.50" y2="376.80" stroke="#505050" stroke-width="1.1"/>
<line x1="535.80" y1="374.50" x2="535.80" y2="379.10" stroke="#505050" stroke-width="0.95"/>
<line x1="567.50" y1="374.50" x2="567.50" y2="379.10" stroke="#505050" stroke-width="0.95"/>
<text transform="translate(554.30,376.60) scale(1.0,1)" font-size="6.1" text-anchor="middle" font-weight="bold" font-style="normal" fill="#333" stroke="#333" stroke-width="0.22">****</text>
<line x1="571.50" y1="375.80" x2="621.30" y2="375.80" stroke="#505050" stroke-width="1.1"/>
<line x1="571.50" y1="373.50" x2="571.50" y2="378.10" stroke="#505050" stroke-width="0.95"/>
<line x1="621.30" y1="373.50" x2="621.30" y2="378.10" stroke="#505050" stroke-width="0.95"/>
<text transform="translate(594.80,375.10) scale(1.0,1)" font-size="6.1" text-anchor="middle" font-weight="bold" font-style="normal" fill="#333" stroke="#333" stroke-width="0.22">****</text>
<line x1="573.50" y1="385.30" x2="592.80" y2="385.30" stroke="#303030" stroke-width="1.05"/>
<line x1="573.50" y1="383.00" x2="573.50" y2="387.60" stroke="#303030" stroke-width="0.95"/>
<line x1="592.80" y1="383.00" x2="592.80" y2="387.60" stroke="#303030" stroke-width="0.95"/>
<text transform="translate(582.30,383.80) scale(1.0,1)" font-size="6.1" text-anchor="middle" font-weight="bold" font-style="normal" fill="#222" stroke="#222" stroke-width="0.22">****</text>
<line x1="593.80" y1="444.50" x2="624.50" y2="444.50" stroke="#505050" stroke-width="1.1"/>
<line x1="593.80" y1="442.20" x2="593.80" y2="446.80" stroke="#505050" stroke-width="0.95"/>
<line x1="624.50" y1="442.20" x2="624.50" y2="446.80" stroke="#505050" stroke-width="0.95"/>
<text transform="translate(608.30,441.30) scale(1.0,1)" font-size="6.1" text-anchor="middle" font-weight="bold" font-style="normal" fill="#333" stroke="#333" stroke-width="0.22">****</text>
<text transform="translate(481.20,431.30) rotate(-90) scale(1.26,1)" font-size="6.8" text-anchor="middle" font-weight="bold" font-style="normal" fill="#111" stroke="#111" stroke-width="0.2">Fold change</text>
<g transform="translate(490.70,430.80) rotate(-90)" fill="#111" stroke="#111" stroke-width="0.25" font-weight="bold" text-anchor="middle"><text font-size="5.9" transform="translate(-16.8,0) scale(1.2,1)">(</text><text font-size="6.4" stroke-width="0.35" transform="translate(-9.7,0) scale(1.15,1)">2</text><text font-size="4.9" font-weight="normal" stroke-width="0.22" transform="translate(2.2,-2.1) scale(1.3,1)">-Δ Δct</text><text font-size="5.9" transform="translate(15.3,0) scale(1.2,1)">)</text></g>
<rect x="655.50" y="382.90" width="8.60" height="5.80" fill="#0000ff"/>
<text transform="translate(668.20,388.70) scale(0.705,1)" font-size="8.8" text-anchor="start" font-weight="normal" font-style="normal" fill="#222" stroke="#222" stroke-width="0.15">Ctrl</text>
<rect x="655.50" y="397.15" width="8.60" height="5.80" fill="#ff0000"/>
<text transform="translate(668.20,402.95) scale(0.705,1)" font-size="8.8" text-anchor="start" font-weight="normal" font-style="normal" fill="#222" stroke="#222" stroke-width="0.15">Cis</text>
<rect x="655.50" y="411.40" width="8.60" height="5.80" fill="#00c000"/>
<text transform="translate(668.20,417.20) scale(0.705,1)" font-size="8.8" text-anchor="start" font-weight="normal" font-style="normal" fill="#222" stroke="#222" stroke-width="0.15">Pal</text>
<rect x="655.50" y="425.65" width="8.60" height="5.80" fill="#a800e6"/>
<text transform="translate(668.20,431.45) scale(0.705,1)" font-size="8.8" text-anchor="start" font-weight="normal" font-style="normal" fill="#222" stroke="#222" stroke-width="0.15">C+P</text>
<rect x="87.00" y="625.33" width="16.80" height="70.67" fill="#0000ff"/>
<line x1="95.40" y1="625.33" x2="95.40" y2="623.21" stroke="#111" stroke-width="1.0"/>
<line x1="91.40" y1="623.21" x2="99.40" y2="623.21" stroke="#000" stroke-width="1.7"/>
<line x1="95.40" y1="696.00" x2="95.40" y2="699.70" stroke="#111" stroke-width="1.1"/>
<text transform="translate(98.30,706.60) rotate(-45) scale(0.8,1)" font-size="8.2" text-anchor="end" font-weight="bold" font-style="italic" fill="#111" stroke="#111" stroke-width="0.1">Ctrl</text>
<rect x="112.00" y="652.12" width="16.80" height="43.88" fill="#ff0000"/>
<line x1="120.40" y1="652.12" x2="120.40" y2="649.29" stroke="#111" stroke-width="1.0"/>
<line x1="116.40" y1="649.29" x2="124.40" y2="649.29" stroke="#000" stroke-width="1.7"/>
<line x1="120.40" y1="696.00" x2="120.40" y2="699.70" stroke="#111" stroke-width="1.1"/>
<text transform="translate(123.30,706.60) rotate(-45) scale(0.8,1)" font-size="8.2" text-anchor="end" font-weight="bold" font-style="italic" fill="#111" stroke="#111" stroke-width="0.1">Cis</text>
<rect x="137.00" y="692.04" width="16.80" height="3.96" fill="#00c000"/>
<line x1="145.40" y1="692.04" x2="145.40" y2="690.49" stroke="#111" stroke-width="1.0"/>
<line x1="141.40" y1="690.49" x2="149.40" y2="690.49" stroke="#000" stroke-width="1.7"/>
<line x1="145.40" y1="696.00" x2="145.40" y2="699.70" stroke="#111" stroke-width="1.1"/>
<text transform="translate(148.30,706.60) rotate(-45) scale(0.8,1)" font-size="8.2" text-anchor="end" font-weight="bold" font-style="italic" fill="#111" stroke="#111" stroke-width="0.1">Pal</text>
<rect x="162.00" y="684.55" width="16.80" height="11.45" fill="#a800e6"/>
<line x1="170.40" y1="684.55" x2="170.40" y2="682.79" stroke="#111" stroke-width="1.0"/>
<line x1="166.40" y1="682.79" x2="174.40" y2="682.79" stroke="#000" stroke-width="1.7"/>
<line x1="170.40" y1="696.00" x2="170.40" y2="699.70" stroke="#111" stroke-width="1.1"/>
<text transform="translate(173.30,706.60) rotate(-50) scale(0.9,1)" font-size="8.2" text-anchor="end" font-weight="bold" font-style="italic" fill="#111" stroke="#111" stroke-width="0.1">C+P</text>
<line x1="74.30" y1="589.40" x2="74.30" y2="696.60" stroke="#111" stroke-width="1.2"/>
<line x1="73.70" y1="696.00" x2="191.30" y2="696.00" stroke="#111" stroke-width="1.55"/>
<line x1="72.10" y1="696.00" x2="74.30" y2="696.00" stroke="#111" stroke-width="1.0"/>
<text transform="translate(71.35,699.05) scale(0.7,1)" font-size="8.4" text-anchor="end" font-weight="bold" font-style="normal" fill="#111" stroke="#111" stroke-width="0.22">0.0</text>
<line x1="72.10" y1="660.67" x2="74.30" y2="660.67" stroke="#111" stroke-width="1.0"/>
<text transform="translate(71.35,663.72) scale(0.7,1)" font-size="8.4" text-anchor="end" font-weight="bold" font-style="normal" fill="#111" stroke="#111" stroke-width="0.22">0.5</text>
<line x1="72.10" y1="625.33" x2="74.30" y2="625.33" stroke="#111" stroke-width="1.0"/>
<text transform="translate(71.35,628.38) scale(0.7,1)" font-size="8.4" text-anchor="end" font-weight="bold" font-style="normal" fill="#111" stroke="#111" stroke-width="0.22">1.0</text>
<line x1="72.10" y1="590.00" x2="74.30" y2="590.00" stroke="#111" stroke-width="1.0"/>
<text transform="translate(71.35,593.05) scale(0.7,1)" font-size="8.4" text-anchor="end" font-weight="bold" font-style="normal" fill="#111" stroke="#111" stroke-width="0.22">1.5</text>
<text transform="translate(133.00,576.60) scale(0.685,1)" font-size="10.7" text-anchor="middle" font-weight="bold" font-style="normal" fill="#111" stroke="#111" stroke-width="0.22">Bcl2</text>
<line x1="89.80" y1="592.50" x2="167.60" y2="592.50" stroke="#505050" stroke-width="1.1"/>
<line x1="89.80" y1="590.20" x2="89.80" y2="594.80" stroke="#505050" stroke-width="0.95"/>
<line x1="167.60" y1="590.20" x2="167.60" y2="594.80" stroke="#505050" stroke-width="0.95"/>
<text transform="translate(107.00,586.60) scale(1.0,1)" font-size="6.1" text-anchor="middle" font-weight="bold" font-style="normal" fill="#333" stroke="#333" stroke-width="0.22">****</text>
<line x1="89.80" y1="605.30" x2="145.80" y2="605.30" stroke="#505050" stroke-width="1.1"/>
<line x1="89.80" y1="603.00" x2="89.80" y2="607.60" stroke="#505050" stroke-width="0.95"/>
<line x1="145.80" y1="603.00" x2="145.80" y2="607.60" stroke="#505050" stroke-width="0.95"/>
<text transform="translate(109.50,599.60) scale(1.0,1)" font-size="6.1" text-anchor="middle" font-weight="bold" font-style="normal" fill="#333" stroke="#333" stroke-width="0.22">****</text>
<line x1="89.80" y1="615.50" x2="120.50" y2="615.50" stroke="#303030" stroke-width="1.05"/>
<line x1="89.80" y1="613.20" x2="89.80" y2="617.80" stroke="#303030" stroke-width="0.95"/>
<line x1="120.50" y1="613.20" x2="120.50" y2="617.80" stroke="#303030" stroke-width="0.95"/>
<text transform="translate(110.80,615.30) scale(1.0,1)" font-size="6.1" text-anchor="middle" font-weight="bold" font-style="normal" fill="#222" stroke="#222" stroke-width="0.22">****</text>
<line x1="116.80" y1="629.50" x2="173.50" y2="629.50" stroke="#303030" stroke-width="1.05"/>
<line x1="116.80" y1="627.20" x2="116.80" y2="631.80" stroke="#303030" stroke-width="0.95"/>
<line x1="173.50" y1="627.20" x2="173.50" y2="631.80" stroke="#303030" stroke-width="0.95"/>
<text transform="translate(140.00,626.20) scale(1.0,1)" font-size="6.1" text-anchor="middle" font-weight="bold" font-style="normal" fill="#222" stroke="#222" stroke-width="0.22">****</text>
<line x1="117.80" y1="638.00" x2="141.80" y2="638.00" stroke="#505050" stroke-width="1.1"/>
<line x1="117.80" y1="635.70" x2="117.80" y2="640.30" stroke="#505050" stroke-width="0.95"/>
<line x1="141.80" y1="635.70" x2="141.80" y2="640.30" stroke="#505050" stroke-width="0.95"/>
<text transform="translate(126.00,639.30) scale(1.0,1)" font-size="6.1" text-anchor="middle" font-weight="bold" font-style="normal" fill="#333" stroke="#333" stroke-width="0.22">****</text>
<text transform="translate(26.20,643.30) rotate(-90) scale(1.26,1)" font-size="6.8" text-anchor="middle" font-weight="bold" font-style="normal" fill="#111" stroke="#111" stroke-width="0.2">Fold change</text>
<g transform="translate(35.70,642.80) rotate(-90)" fill="#111" stroke="#111" stroke-width="0.25" font-weight="bold" text-anchor="middle"><text font-size="5.9" transform="translate(-16.8,0) scale(1.2,1)">(</text><text font-size="6.4" stroke-width="0.35" transform="translate(-9.7,0) scale(1.15,1)">2</text><text font-size="4.9" font-weight="normal" stroke-width="0.22" transform="translate(2.2,-2.1) scale(1.3,1)">-Δ Δct</text><text font-size="5.9" transform="translate(15.3,0) scale(1.2,1)">)</text></g>
<rect x="208.90" y="594.30" width="8.40" height="5.80" fill="#0000ff"/>
<text transform="translate(222.10,600.10) scale(0.705,1)" font-size="8.8" text-anchor="start" font-weight="normal" font-style="normal" fill="#222" stroke="#222" stroke-width="0.15">Ctrl</text>
<rect x="208.90" y="608.60" width="8.40" height="5.80" fill="#ff0000"/>
<text transform="translate(222.10,614.40) scale(0.705,1)" font-size="8.8" text-anchor="start" font-weight="normal" font-style="normal" fill="#222" stroke="#222" stroke-width="0.15">Cis</text>
<rect x="208.90" y="622.90" width="8.40" height="5.80" fill="#00c000"/>
<text transform="translate(222.10,628.70) scale(0.705,1)" font-size="8.8" text-anchor="start" font-weight="normal" font-style="normal" fill="#222" stroke="#222" stroke-width="0.15">Pal</text>
<rect x="208.90" y="637.20" width="8.40" height="5.80" fill="#a800e6"/>
<text transform="translate(222.10,643.00) scale(0.705,1)" font-size="8.8" text-anchor="start" font-weight="normal" font-style="normal" fill="#222" stroke="#222" stroke-width="0.15">C+P</text>
</svg></body></html>
